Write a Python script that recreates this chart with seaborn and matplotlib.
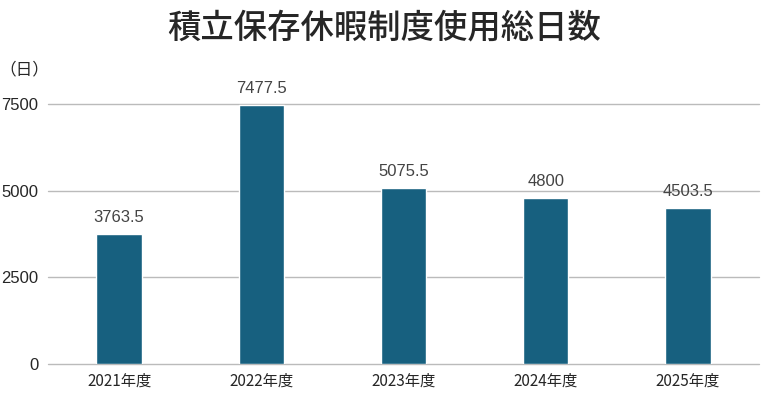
import matplotlib
matplotlib.use("Agg")
import matplotlib.pyplot as plt
import seaborn as sns
import pandas as pd

categories = ["2021年度", "2022年度", "2023年度", "2024年度", "2025年度"]
values = [3763.5, 7477.5, 5075.5, 4800, 4503.5]
value_labels = ["3763.5", "7477.5", "5075.5", "4800", "4503.5"]
yticks = [0, 2500, 5000, 7500]

sns.set_style("white")
plt.rcParams['font.family'] = ['Noto Sans CJK JP', 'DejaVu Sans']

df = pd.DataFrame({"year": categories, "days": values})

fig = plt.figure(figsize=(7.68, 4.01), dpi=100)
ax = fig.add_axes([48/768, 37/401, 711/768, 260/401])
sns.barplot(data=df, x="year", y="days", color="#17607f", width=0.32, ax=ax, saturation=1, zorder=3)

ax.set_ylim(0, 7500)
ax.set_xlim(-0.5, 4.5)
ax.set_yticks(yticks)
ax.set_yticklabels([str(t) for t in yticks], fontfamily="Liberation Sans", fontsize=12)
ax.yaxis.grid(True, color="#bbbbbb", linewidth=1)
for gl in ax.yaxis.get_gridlines():
    gl.set_clip_on(False)
ax.set_axisbelow(True)
for s in ax.spines.values():
    s.set_visible(False)
ax.tick_params(axis="both", length=0)
ax.tick_params(axis="y", pad=7)
ax.tick_params(axis="x", pad=6, labelsize=11)
ax.set_xlabel("")
ax.set_ylabel("")

for i, (v, lab) in enumerate(zip(values, value_labels)):
    ax.text(i, v + 250, lab, ha="center", va="bottom", fontsize=12,
            fontfamily="Liberation Sans", color="#444444")

fig.text(24/768, 1 - 70/401, "（日）", ha="center", va="center", fontsize=12)
fig.text(0.5, 1 - 28/401, "積立保存休暇制度使用総日数", ha="center", va="center",
         fontsize=24, fontweight="medium")

fig.savefig("out.png", dpi=100)
